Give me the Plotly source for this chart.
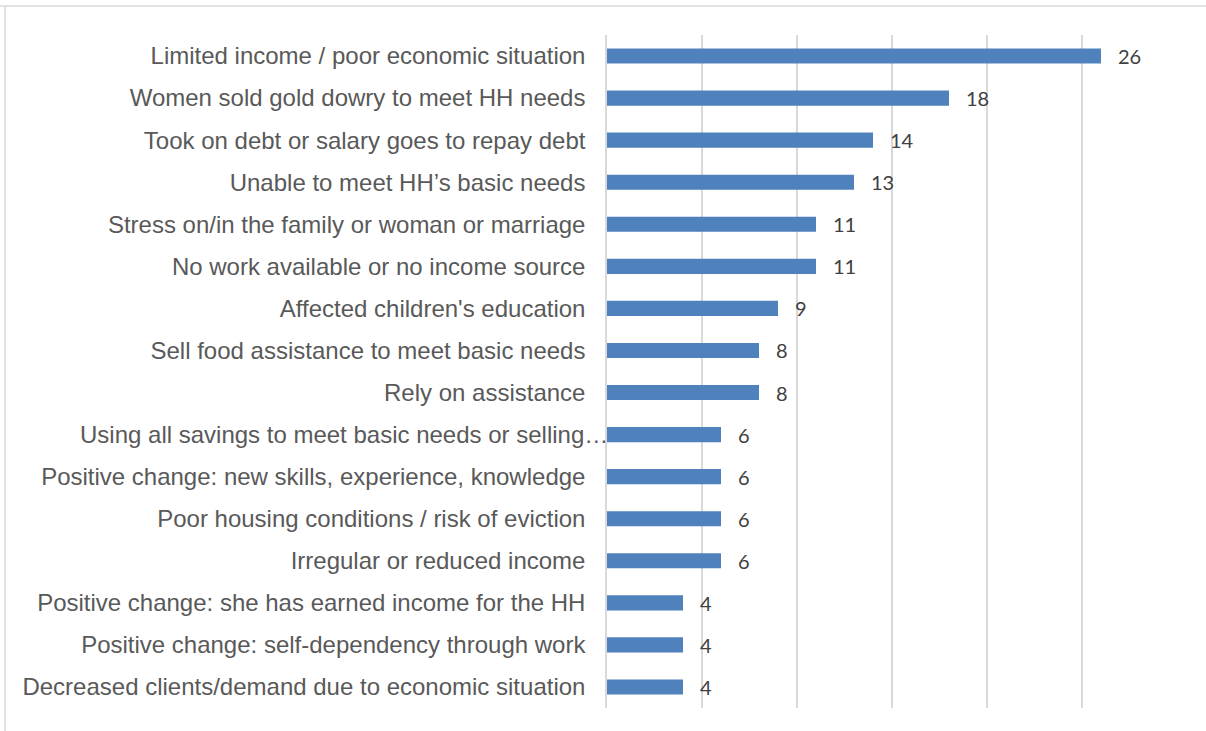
import plotly.graph_objects as go

categories = [
    "Limited income / poor economic situation",
    "Women sold gold dowry to meet HH needs",
    "Took on debt or salary goes to repay debt",
    "Unable to meet HH\u2019s basic needs",
    "Stress on/in the family or woman or marriage",
    "No work available or no income source",
    "Affected children's education",
    "Sell food assistance to meet basic needs",
    "Rely on assistance",
    "Using all savings to meet basic needs or selling\u2026",
    "Positive change: new skills, experience, knowledge",
    "Poor housing conditions / risk of eviction",
    "Irregular or reduced income",
    "Positive change: she has earned income for the HH",
    "Positive change: self-dependency through work",
    "Decreased clients/demand due to economic situation",
]
counts = [26, 18, 14, 13, 11, 11, 9, 8, 8, 6, 6, 6, 6, 4, 4, 4]

# the truncated label runs up to the axis line, so it is drawn separately
truncated = "Using all savings to meet basic needs or selling\u2026"
tick_text = ["" if c == truncated else c for c in categories]

label_font = dict(family="Liberation Sans, Arial, sans-serif", size=24, color="#595959")

fig = go.Figure()
fig.add_trace(go.Bar(
    y=categories,
    x=counts,
    orientation="h",
    marker=dict(color="#4F81BD", line=dict(width=0)),
    width=0.36,
))

# value labels to the right of each bar
for cat, v in zip(categories, counts):
    fig.add_annotation(
        x=v, y=cat, xref="x", yref="y",
        text=str(v), showarrow=False,
        xanchor="left", xshift=15,
        font=dict(family="Lato, Open Sans, sans-serif", size=20, color="#404040"),
    )

fig.add_annotation(
    x=0, y=truncated, xref="x", yref="y",
    text=truncated, showarrow=False,
    xanchor="right", xshift=3,
    font=label_font,
)

fig.update_layout(
    width=1206,
    height=731,
    margin=dict(l=607, r=29, t=35, b=23),
    paper_bgcolor="white",
    plot_bgcolor="white",
    showlegend=False,
    font=dict(family="Liberation Sans, Arial, sans-serif"),
    shapes=[
        dict(type="line", xref="paper", yref="paper", x0=-607/570, x1=1.06, y0=1 + 29/673, y1=1 + 29/673,
             line=dict(color="#D9D9D9", width=1.5)),
        dict(type="line", xref="paper", yref="paper", x0=-602/570, x1=-602/570, y0=-1, y1=1 + 29/673,
             line=dict(color="#D9D9D9", width=1.5)),
    ],
)
fig.update_xaxes(
    range=[0, 30],
    dtick=5,
    showgrid=True,
    gridcolor="#D9D9D9",
    gridwidth=1.5,
    zeroline=False,
    showticklabels=False,
    showline=False,
)
fig.update_yaxes(
    autorange="reversed",
    tickmode="array",
    tickvals=categories,
    ticktext=tick_text,
    showgrid=False,
    showline=True,
    linecolor="#D9D9D9",
    linewidth=1.5,
    ticks="",
    ticklabelstandoff=15,
    tickfont=label_font,
)

fig.write_html("out.html")
